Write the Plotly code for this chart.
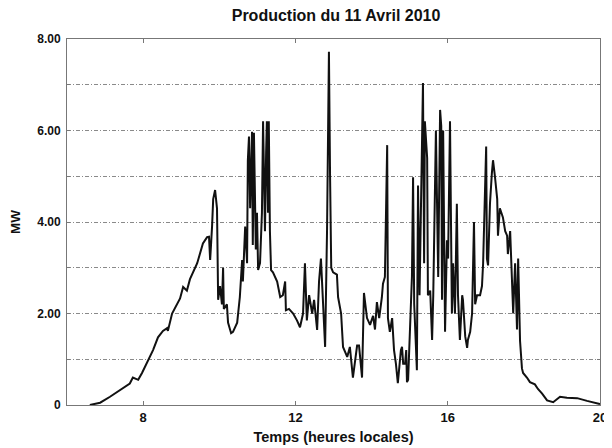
import plotly.graph_objects as go

hours = [6.60, 6.87, 7.13, 7.39, 7.65, 7.73, 7.87, 7.97, 8.05, 8.13, 8.26, 8.39, 8.52, 8.63, 8.65,
         8.76, 8.89, 8.97, 9.05, 9.15, 9.23, 9.42, 9.57, 9.68, 9.73, 9.76, 9.81, 9.84, 9.89, 9.94,
         9.97, 10.02, 10.07, 10.10, 10.12, 10.20, 10.23, 10.31, 10.36, 10.47, 10.54, 10.60, 10.62,
         10.68, 10.73, 10.75, 10.78, 10.81, 10.86, 10.88, 10.91, 10.96, 10.99, 11.02, 11.07, 11.12,
         11.15, 11.20, 11.23, 11.25, 11.28, 11.30, 11.33, 11.36, 11.41, 11.52, 11.60, 11.67, 11.73,
         11.75, 11.83, 11.94, 12.04, 12.12, 12.20, 12.25, 12.30, 12.36, 12.44, 12.49, 12.57, 12.62,
         12.67, 12.72, 12.78, 12.83, 12.88, 12.91, 12.94, 12.99, 13.09, 13.12, 13.20, 13.25, 13.36,
         13.43, 13.51, 13.62, 13.67, 13.75, 13.80, 13.88, 13.96, 14.04, 14.09, 14.14, 14.20, 14.27,
         14.30, 14.35, 14.41, 14.43, 14.48, 14.54, 14.59, 14.64, 14.69, 14.77, 14.80, 14.83, 14.88,
         14.91, 14.93, 14.96, 15.01, 15.06, 15.09, 15.12, 15.19, 15.22, 15.26, 15.35, 15.38, 15.40,
         15.46, 15.48, 15.54, 15.59, 15.62, 15.64, 15.69, 15.75, 15.80, 15.83, 15.85, 15.88, 15.93,
         15.98, 16.01, 16.06, 16.11, 16.14, 16.19, 16.24, 16.27, 16.32, 16.38, 16.40, 16.46, 16.51,
         16.53, 16.59, 16.64, 16.69, 16.72, 16.77, 16.85, 16.90, 16.93, 17.01, 17.03, 17.06, 17.11,
         17.16, 17.19, 17.24, 17.30, 17.32, 17.37, 17.45, 17.51, 17.56, 17.58, 17.64, 17.69, 17.72,
         17.77, 17.82, 17.85, 17.90, 17.95, 17.98, 18.08, 18.16, 18.29, 18.37, 18.48, 18.61, 18.77,
         18.95, 19.13, 19.40, 19.66, 20.00]

mw = [0.00, 0.05, 0.18, 0.33, 0.47, 0.60, 0.55, 0.70, 0.83, 0.98, 1.20, 1.48, 1.62, 1.68, 1.62,
      2.00, 2.22, 2.33, 2.58, 2.50, 2.75, 3.10, 3.53, 3.67, 3.68, 3.17, 3.90, 4.50, 4.70, 4.30,
      2.30, 2.60, 2.20, 3.00, 2.10, 2.20, 1.80, 1.57, 1.60, 1.80, 2.36, 3.17, 2.70,
      3.90, 3.10, 5.35, 5.87, 4.30, 5.97, 3.50, 5.95, 3.40, 4.20, 2.95, 3.10, 4.20,
      6.20, 3.80, 5.50, 6.20, 4.20, 6.20, 3.80, 2.95, 2.90, 2.70, 2.36, 2.40, 2.70,
      2.07, 2.10, 2.00, 1.85, 1.70, 2.00, 3.10, 1.85, 2.40, 2.00, 2.30, 1.64, 2.70,
      3.20, 2.20, 1.27, 3.80, 7.72, 5.00, 3.00, 2.90, 2.85, 2.36, 2.00, 1.27, 1.05,
      1.27, 0.60, 1.30, 1.30, 0.60, 2.45, 1.90, 1.75, 1.95, 1.65, 2.25, 1.90, 2.35,
      2.65, 2.80, 5.68, 1.90, 1.60, 1.90, 1.20, 0.90, 0.48, 1.20, 1.27, 0.90, 0.90,
      1.20, 0.50, 0.55, 1.90, 2.80, 4.98, 2.20, 0.76, 4.80, 2.40, 7.04, 3.10, 6.20,
      5.40, 2.40, 2.50, 1.42, 2.40, 3.80, 6.00, 2.80, 6.45, 6.10, 2.30, 6.00, 1.60,
      3.60, 3.20, 6.20, 2.00, 3.10, 2.00, 4.40, 2.40, 1.42, 2.40, 2.30, 1.50, 1.25,
      1.42, 1.60, 2.00, 4.00, 2.20, 2.40, 2.40, 2.60, 3.10, 5.65, 3.20, 3.05, 4.40,
      5.07, 5.35, 5.00, 4.50, 3.70, 4.30, 4.10, 3.80, 3.70, 3.30, 3.80, 2.80, 2.00,
      3.10, 1.65, 3.20, 1.40, 0.80, 0.70, 0.60, 0.50, 0.45, 0.35, 0.25, 0.10, 0.06,
      0.18, 0.16, 0.15, 0.09, 0.02]

x_ticks = [8, 12, 16, 20]
y_grid = [0, 1, 2, 3, 4, 5, 6, 7, 8]
y_labels = ["0", "", "2.00", "", "4.00", "", "6.00", "", "8.00"]

title_text = "Production du 11 Avril 2010"
x_title = "Temps (heures locales)"
y_title = "MW"

fig = go.Figure()
fig.add_trace(go.Scatter(x=hours, y=mw, mode="lines",
                         line=dict(color="#111111", width=2), showlegend=False))

font_family = "Liberation Sans, Arial, sans-serif"
fig.update_layout(
    width=612, height=448,
    margin=dict(l=59, r=20, t=31, b=51),
    paper_bgcolor="white", plot_bgcolor="white",
    title=dict(text=title_text, x=0.536, xanchor="center", yref="container", y=0.984,
               yanchor="middle",
               font=dict(family=font_family, size=16, color="#111111", weight="bold")),
    font=dict(family=font_family, color="#111111"),
)
fig.update_xaxes(
    range=[6, 20], tickvals=x_ticks, ticktext=[str(v) for v in x_ticks],
    ticks="inside", ticklen=4, tickcolor="#777777", mirror="allticks",
    showline=True, linecolor="#777777", linewidth=1, showgrid=False, zeroline=False,
    tickfont=dict(family=font_family, size=13, weight="bold"), automargin=False,
    title=dict(text=x_title, standoff=8, font=dict(family=font_family, size=14.5, weight="bold")),
)
fig.update_yaxes(
    range=[0, 8], tickvals=y_grid, ticktext=y_labels,
    ticks="inside", ticklen=3, tickcolor="#777777", mirror="allticks",
    showline=True, linecolor="#777777", linewidth=1,
    showgrid=True, gridcolor="#8a8a8a", gridwidth=1, griddash="4px,2px,1px,2px", zeroline=False,
    tickfont=dict(family=font_family, size=12, weight="bold"), ticklabelstandoff=3,
    automargin=False,
    title=dict(text=y_title, standoff=19, font=dict(family=font_family, size=13.5, weight="bold")),
)

fig.write_html("out.html")
